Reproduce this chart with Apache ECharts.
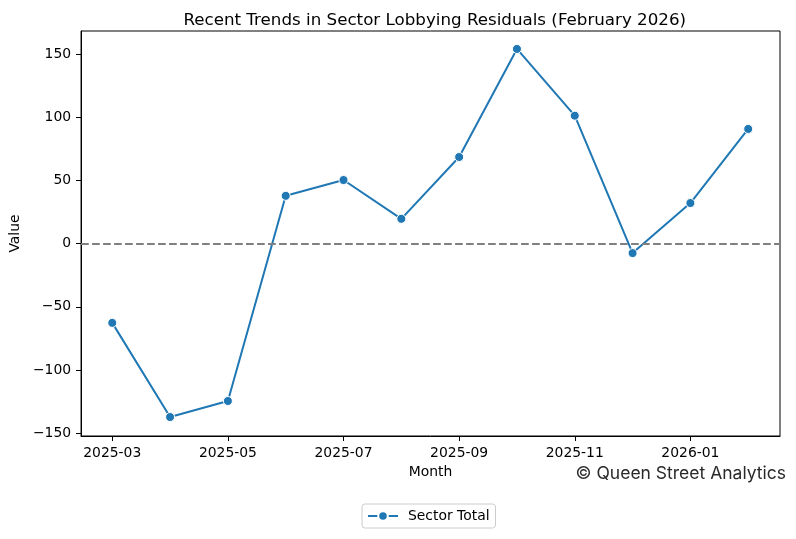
<!DOCTYPE html>
<html>
<head>
    <meta charset="utf-8">
    <title>Recent Trends in Sector Lobbying Residuals</title>
    <script src="https://cdn.jsdelivr.net/npm/echarts@6/dist/echarts.min.js"></script>
    <style>
        html, body { margin: 0; padding: 0; background: #fff; }
    </style>
</head>
<body>
    <div id="main" style="width: 796px;height:539px;"></div>
    <script type="text/javascript">
        // data
        var months = ['2025-03', '2025-04', '2025-05', '2025-06', '2025-07', '2025-08',
                      '2025-09', '2025-10', '2025-11', '2025-12', '2026-01', '2026-02'];
        var sectorTotal = [-62.7, -137.2, -124.5, 37.8, 50.3, 19.6, 68.5, 154.0, 101.2, -7.5, 32.1, 90.7];
        var xTickIdx = [0, 2, 4, 6, 8, 10];
        var yTicks = [-150, -100, -50, 0, 50, 100, 150];

        var myChart = echarts.init(document.getElementById('main'));

        var seriesData = [];
        for (var i = 0; i < sectorTotal.length; i++) {
            seriesData.push([i, sectorTotal[i]]);
        }

        var font = 'DejaVu Sans';
        var option = {
            animation: false,
            title: {
                text: 'Recent Trends in Sector Lobbying Residuals (February 2026)',
                left: 429.75,
                textAlign: 'center',
                top: 7,
                textStyle: { fontFamily: font, fontSize: 16.7, fontWeight: 'normal', color: '#000' }
            },
            legend: {
                data: ['Sector Total'],
                left: 362,
                top: 504,
                padding: [5, 6, 5, 5],
                borderColor: '#cccccc',
                borderWidth: 1,
                borderRadius: 3,
                itemWidth: 30,
                itemHeight: 12,
                textStyle: { fontFamily: font, fontSize: 13.9, color: '#000', padding: [0, 0, 0, 5] }
            },
            grid: {
                left: 79.5, right: 16, top: 31, bottom: 103,
                show: true, borderColor: '#000', borderWidth: 1
            },
            xAxis: {
                type: 'value',
                min: -0.54,
                max: 11.55,
                name: 'Month',
                nameLocation: 'middle',
                nameGap: 28,
                nameTextStyle: { fontFamily: font, fontSize: 13.9, color: '#000' },
                splitLine: { show: false },
                axisLine: { show: true, onZero: false, lineStyle: { color: '#000', width: 1 } },
                axisTick: { show: true, customValues: xTickIdx, length: 5, inside: false, lineStyle: { color: '#000' } },
                axisLabel: {
                    customValues: xTickIdx,
                    margin: 10,
                    fontFamily: font, fontSize: 13.9, color: '#000',
                    formatter: function (v) { return months[Math.round(v)]; }
                }
            },
            yAxis: {
                type: 'value',
                min: -152.2,
                max: 168.2,
                name: 'Value',
                nameLocation: 'middle',
                nameGap: 57,
                nameTextStyle: { fontFamily: font, fontSize: 13.9, color: '#000' },
                splitLine: { show: false },
                axisLine: { show: true, onZero: false, lineStyle: { color: '#000', width: 1 } },
                axisTick: { show: true, customValues: yTicks, length: 5, inside: false, lineStyle: { color: '#000' } },
                axisLabel: {
                    customValues: yTicks,
                    margin: 10,
                    fontFamily: font, fontSize: 13.9, color: '#000',
                    formatter: function (v) { return String(v).replace('-', '\u2212'); }
                }
            },
            graphic: [{
                type: 'text',
                right: 10,
                top: 465,
                style: {
                    text: '\u00a9 Queen Street Analytics',
                    font: '17.5px Inter',
                    fill: '#2a2a2a'
                }
            }],
            series: [{
                name: 'Sector Total',
                type: 'line',
                data: seriesData,
                symbol: 'circle',
                symbolSize: 9,
                lineStyle: { color: '#1f77b4', width: 2 },
                itemStyle: { color: '#1f77b4', borderColor: '#fff', borderWidth: 1 },
                markLine: {
                    silent: true,
                    symbol: 'none',
                    label: { show: false },
                    lineStyle: { color: '#808080', type: [7.7, 3.3], width: 2 },
                    data: [{ yAxis: 0 }]
                }
            }]
        };

        myChart.setOption(option);
    </script>
</body>
</html>
